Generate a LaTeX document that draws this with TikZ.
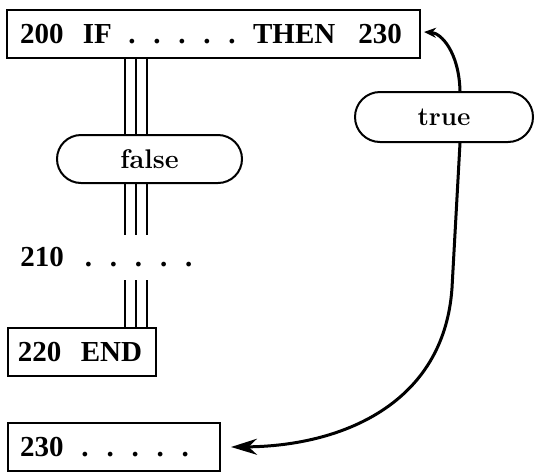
\documentclass[tikz,border=0pt]{standalone}
\usepackage{fontspec}
\newfontfamily\codefont{Liberation Serif}
\usetikzlibrary{arrows.meta,shapes.misc}
\newcommand\dotgap{\hspace{8.9pt}}
\newcommand\fivedots{.\dotgap.\dotgap.\dotgap.\dotgap.}
\begin{document}
\begin{tikzpicture}[x=0.5pt,y=-0.5pt,
  code/.style={font=\codefont\bfseries\fontsize{14.5}{17}\selectfont},
  box/.style={draw,line width=1pt,rectangle,code,inner ysep=0pt,align=left},
  pill/.style={draw,line width=1pt,rounded rectangle,inner sep=0pt},
  triple/.style={line width=1pt},
  flow/.style={line width=1.5pt}]
\useasboundingbox (0,0) rectangle (535,472);
\node[box,inner xsep=6.5pt,text width=193.5pt,minimum height=24pt] (b200) at (213.5,34)
  {200\hspace{9.7pt}IF\hspace{8.2pt}\fivedots\hspace{8.7pt}THEN\hspace{11.5pt}230};
\node[pill,minimum width=92.5pt,minimum height=24pt,font=\bfseries\fontsize{13.5}{16}\selectfont] (false) at (149.5,159) {false};
\node[pill,minimum width=89pt,minimum height=25pt,font=\bfseries\fontsize{13}{15}\selectfont] (true) at (444,117) {true};
\node[code,inner sep=0pt,minimum height=22.5pt,anchor=west] (t210) at (20,257.5)
  {210\hspace{10.5pt}\fivedots};
\node[box,inner xsep=5pt,text width=64pt,minimum height=24pt] (b220) at (82,352) {220\hspace{9.7pt}END};
\node[box,inner xsep=6pt,text width=94pt,minimum height=24pt] (b230) at (114,447) {230\hspace{9pt}\fivedots};
\foreach \c in {125,136,147}{
  \coordinate (c) at (\c,0);
  \draw[triple] (b200.south -| c) -- (false.north -| c);
  \draw[triple] (false.south -| c) -- (t210.north -| c);
  \draw[triple] (t210.south -| c) -- (b220.north -| c);
}
\draw[flow,-{Stealth[length=6pt,width=5pt]}] ([xshift=8pt]true.north)
  .. controls (459,52) and (441,33) .. ([xshift=1.5pt,yshift=1pt]b200.east);
\coordinate (bend) at (452,288);
\draw[flow] ([xshift=8pt]true.south) -- (bend);
\draw[flow,-{Stealth[length=13pt,width=8pt]}] (bend)
  .. controls (444,405) and (340,446) .. ([xshift=5pt]b230.east);
\end{tikzpicture}
\end{document}
